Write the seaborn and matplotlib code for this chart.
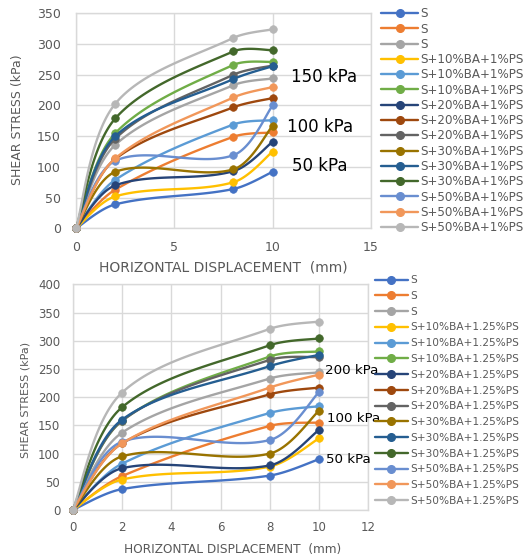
import numpy as np
import pandas as pd
import matplotlib
matplotlib.use("Agg")
import matplotlib.pyplot as plt
from matplotlib.lines import Line2D
import seaborn as sns

# ---------------- data ----------------
x_disp = [0, 2, 8, 10]

labels_top = ["S", "S", "S",
              "S+10%BA+1%PS", "S+10%BA+1%PS", "S+10%BA+1%PS",
              "S+20%BA+1%PS", "S+20%BA+1%PS", "S+20%BA+1%PS",
              "S+30%BA+1%PS", "S+30%BA+1%PS", "S+30%BA+1%PS",
              "S+50%BA+1%PS", "S+50%BA+1%PS", "S+50%BA+1%PS"]
labels_bot = ["S", "S", "S",
              "S+10%BA+1.25%PS", "S+10%BA+1.25%PS", "S+10%BA+1.25%PS",
              "S+20%BA+1.25%PS", "S+20%BA+1.25%PS", "S+20%BA+1.25%PS",
              "S+30%BA+1.25%PS", "S+30%BA+1.25%PS", "S+30%BA+1.25%PS",
              "S+50%BA+1.25%PS", "S+50%BA+1.25%PS", "S+50%BA+1.25%PS"]

# top chart (1% PS)
top_S_50 = [0, 39, 64, 92]
top_S_100 = [0, 63, 149, 156]
top_S_150 = [0, 136, 233, 244]
top_10_50 = [0, 52, 75, 125]
top_10_100 = [0, 79, 169, 176]
top_10_150 = [0, 155, 266, 271]
top_20_50 = [0, 70, 93, 141]
top_20_100 = [0, 113, 197, 212]
top_20_150 = [0, 146, 250, 265]
top_30_50 = [0, 92, 96, 167]
top_30_100 = [0, 150, 243, 264]
top_30_150 = [0, 179, 288, 290]
top_50_50 = [0, 110, 119, 200]
top_50_100 = [0, 114, 213, 230]
top_50_150 = [0, 203, 310, 324]

# bottom chart (1.25% PS)
bot_S_50 = [0, 37, 61, 90]
bot_S_100 = [0, 60, 149, 155]
bot_S_150 = [0, 137, 233, 244]
bot_10_50 = [0, 54, 77, 127]
bot_10_100 = [0, 82, 172, 184]
bot_10_150 = [0, 158, 272, 281]
bot_20_50 = [0, 74, 79, 142]
bot_20_100 = [0, 118, 205, 217]
bot_20_150 = [0, 158, 266, 271]
bot_30_50 = [0, 95, 100, 176]
bot_30_100 = [0, 160, 255, 275]
bot_30_150 = [0, 182, 292, 304]
bot_50_50 = [0, 121, 124, 209]
bot_50_100 = [0, 118, 217, 240]
bot_50_150 = [0, 208, 321, 334]

top_series = [top_S_50, top_S_100, top_S_150, top_10_50, top_10_100, top_10_150,
              top_20_50, top_20_100, top_20_150, top_30_50, top_30_100, top_30_150,
              top_50_50, top_50_100, top_50_150]
bot_series = [bot_S_50, bot_S_100, bot_S_150, bot_10_50, bot_10_100, bot_10_150,
              bot_20_50, bot_20_100, bot_20_150, bot_30_50, bot_30_100, bot_30_150,
              bot_50_50, bot_50_100, bot_50_150]

top_ann = [("150 kPa", 10.93, 246), ("100 kPa", 10.73, 165), ("50 kPa", 10.98, 101)]
bot_ann = [("200 kPa", 10.24, 248), ("100 kPa", 10.34, 163), ("50 kPa", 10.29, 90)]

colors = ['#4472C4', '#ED7D31', '#A5A5A5', '#FFC000', '#5B9BD5', '#70AD47',
          '#264478', '#9E480E', '#636363', '#997300', '#255E91', '#43682B',
          '#698ED0', '#F1975A', '#B7B7B7']

GRAY = '#595959'


def smooth(xs, ys, kx, ky, n=40):
    """Excel-like smoothed line: Bezier through the points, tangents scaled
    by neighbouring segment lengths (measured on screen)."""
    P = np.column_stack([xs, ys]).astype(float)
    S = P * np.array([kx, ky])
    m = len(P)
    f = 1.0 / 6.0

    def dist(a, b):
        return float(np.hypot(*(S[a] - S[b])))

    out = []
    for i in range(m - 1):
        i0 = i - 1 if i > 0 else i
        i3 = i + 2 if i + 2 < m else i + 1
        p0, p1, p2, p3 = P[i0], P[i], P[i + 1], P[i3]
        d12 = dist(i, i + 1)
        if i > 0:
            d01 = dist(i0, i)
            s1 = 2 * d12 / (d01 + d12)
        else:
            s1 = 1.0
        if i + 2 < m:
            d23 = dist(i + 1, i3)
            s2 = 2 * d12 / (d12 + d23)
        else:
            s2 = 1.0
        c1 = p1 + (p2 - p0) * f * s1
        c2 = p2 - (p3 - p1) * f * s2
        t = np.linspace(0, 1, n)[:, None]
        seg = ((1 - t) ** 3) * p1 + 3 * ((1 - t) ** 2) * t * c1 + 3 * (1 - t) * t ** 2 * c2 + t ** 3 * p2
        if i > 0:
            seg = seg[1:]
        out.append(seg)
    arr = np.vstack(out)
    return arr[:, 0], arr[:, 1]


sns.set_theme(style="white")
plt.rcParams['font.family'] = ['DejaVu Sans']

fig = plt.figure(figsize=(5.32, 5.6), dpi=100)
ax1 = fig.add_axes([0.1429, 0.5923, 0.5545, 0.3839])
ax2 = fig.add_axes([0.1367, 0.0893, 0.5556, 0.4030])


def draw(ax, series, xmax, xstep, ymax, tick_fs, kx, ky):
    for i, (ys, c) in enumerate(zip(series, colors)):
        sx, sy = smooth(x_disp, ys, kx, ky)
        sns.lineplot(x=sx, y=sy, sort=False, estimator=None, color=c, lw=1.7,
                     ax=ax, zorder=3 + 2 * i, legend=False)
        sns.scatterplot(x=x_disp, y=ys, color=c, edgecolor=c, s=30, linewidth=0.5,
                        ax=ax, zorder=4 + 2 * i, legend=False, clip_on=False)
    ax.set_xlim(0, xmax)
    ax.set_ylim(0, ymax)
    ax.set_xticks(np.arange(0, xmax + 0.1, xstep))
    ax.set_yticks(np.arange(0, ymax + 1, 50))
    ax.grid(True, color='#D9D9D9', lw=1)
    ax.set_axisbelow(True)
    for s in ax.spines.values():
        s.set_color('#D9D9D9')
        s.set_linewidth(1)
    ax.tick_params(length=0, labelsize=tick_fs, labelcolor=GRAY)


draw(ax1, top_series, 15, 5, 350, 9, 19.67, 0.6143)
draw(ax2, bot_series, 12, 2, 400, 8.5, 24.63, 0.5643)
ax1.tick_params(axis='y', pad=11)
ax1.tick_params(axis='x', pad=9)
ax2.tick_params(axis='y', pad=9)
ax2.tick_params(axis='x', pad=8)

ax1.set_xlabel("HORIZONTAL DISPLACEMENT  (mm)", fontsize=10, color=GRAY)
ax1.set_ylabel("SHEAR STRESS (kPa)", fontsize=9, color=GRAY)
ax2.set_xlabel("HORIZONTAL DISPLACEMENT  (mm)", fontsize=8.7, color=GRAY)
ax2.set_ylabel("SHEAR STRESS (kPa)", fontsize=8, color=GRAY)
for ax in (ax1, ax2):
    ax.xaxis.label.set_va('center')
    ax.yaxis.label.set_va('center')
ax1.xaxis.set_label_coords(0.498, -0.18)
ax1.yaxis.set_label_coords(-0.197, 0.504)
ax2.xaxis.set_label_coords(0.54, -0.177)
ax2.yaxis.set_label_coords(-0.161, 0.487)

for txt, xx, yy in top_ann:
    ax1.text(xx, yy, txt, fontsize=12, color='black', va='center', ha='left', zorder=50)
for txt, xx, yy in bot_ann:
    ax2.text(xx, yy, txt, fontsize=9.6, color='black', va='center', ha='left', zorder=50)


def add_legend(labels, anchor, fs, hl, ls):
    handles = [Line2D([0], [0], color=c, lw=1.7, marker='o', markersize=5.5,
                      markeredgecolor=c) for c in colors]
    leg = fig.legend(handles, labels, loc='upper left', bbox_to_anchor=anchor,
                     bbox_transform=fig.transFigure, frameon=False, fontsize=fs,
                     handlelength=hl, handletextpad=0.2, labelspacing=ls,
                     borderpad=0.15, borderaxespad=0)
    leg.set_zorder(100)
    for t in leg.get_texts():
        t.set_color(GRAY)
    return leg


add_legend(labels_top, (0.713, 0.9902), 8.6, 3.1, 0.19)
add_legend(labels_bot, (0.702, 0.5114), 7.6, 3.1, 0.546)

fig.savefig("out.png", dpi=100, facecolor='white')
